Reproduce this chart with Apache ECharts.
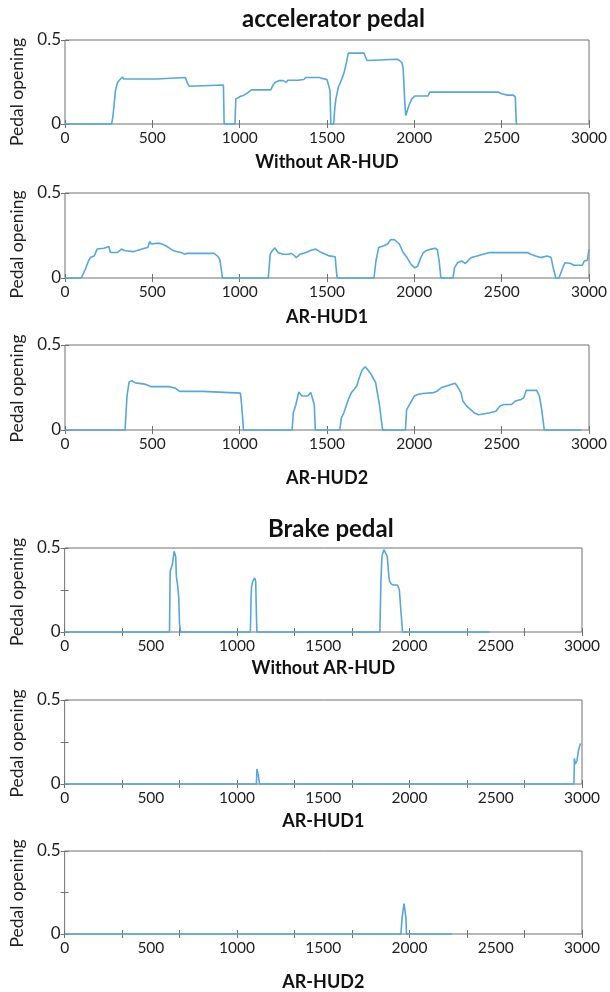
<!DOCTYPE html>
<html>
<head>
<meta charset="utf-8">
<script src="https://cdn.jsdelivr.net/npm/echarts@6/dist/echarts.min.js"></script>
<style>html,body{margin:0;padding:0;background:#fff;}#chart{width:610px;height:992px;}</style>
</head>
<body>
<div id="chart"></div>
<script>
// ---- data (x = sample index, y = pedal opening) ----
const xTickLabels = [0, 500, 1000, 1500, 2000, 2500, 3000];
const yTickLabels = [0, 0.5];
const panelNames = ['Without AR-HUD', 'AR-HUD1', 'AR-HUD2', 'Without AR-HUD', 'AR-HUD1', 'AR-HUD2'];
const sectionTitles = ['accelerator pedal', 'Brake pedal'];

const accelWithout = [[0,0],[267,0],[275,0.05],[289,0.2],[300,0.245],[311,0.26],[329,0.28],[335,0.268],[522,0.268],[527,0.277],[689,0.277],[700,0.245],[711,0.225],[720,0.232],[907,0.232],[909,0.12],[911,0],[973,0],[978,0.15],[990,0.155],[1005,0.165],[1022,0.17],[1045,0.185],[1067,0.203],[1178,0.203],[1190,0.23],[1204,0.248],[1225,0.258],[1250,0.258],[1267,0.248],[1275,0.26],[1333,0.26],[1367,0.265],[1378,0.277],[1456,0.277],[1478,0.27],[1500,0.265],[1511,0.26],[1517,0.2],[1522,0],[1538,0],[1545,0.1],[1551,0.15],[1565,0.22],[1578,0.25],[1596,0.3],[1608,0.35],[1622,0.422],[1711,0.422],[1720,0.4],[1729,0.378],[1740,0.385],[1900,0.385],[1915,0.378],[1929,0.365],[1936,0.33],[1942,0.2],[1947,0.1],[1951,0.05],[1960,0.08],[1969,0.11],[1985,0.15],[2004,0.167],[2078,0.167],[2089,0.19],[2478,0.19],[2500,0.18],[2533,0.172],[2567,0.172],[2578,0.16],[2582,0.05],[2584,0],[2590,0]];

const accelHUD1 = [[0,0],[93,0],[116,0.05],[134,0.1],[145,0.12],[167,0.13],[185,0.171],[223,0.175],[251,0.185],[260,0.15],[300,0.15],[323,0.17],[329,0.177],[345,0.16],[356,0.149],[390,0.155],[423,0.165],[456,0.175],[474,0.18],[485,0.214],[494,0.2],[534,0.205],[541,0.21],[556,0.2],[585,0.185],[607,0.17],[623,0.16],[634,0.149],[668,0.149],[686,0.139],[701,0.145],[852,0.145],[872,0.13],[886,0.11],[895,0.05],[901,0],[1164,0],[1175,0.14],[1186,0.16],[1202,0.177],[1220,0.15],[1246,0.14],[1280,0.14],[1287,0.13],[1295,0.145],[1310,0.135],[1324,0.12],[1346,0.14],[1380,0.15],[1413,0.165],[1436,0.17],[1458,0.155],[1491,0.14],[1513,0.13],[1547,0.125],[1552,0.06],[1558,0],[1769,0],[1780,0.1],[1796,0.18],[1825,0.19],[1847,0.2],[1865,0.226],[1887,0.225],[1914,0.2],[1936,0.15],[1958,0.12],[1981,0.08],[2003,0.06],[2019,0.07],[2037,0.12],[2052,0.15],[2066,0.16],[2077,0.15],[2097,0.17],[2119,0.175],[2132,0.165],[2142,0.1],[2152,0],[2221,0],[2230,0.06],[2248,0.09],[2270,0.1],[2293,0.085],[2305,0.1],[2326,0.12],[2360,0.13],[2393,0.14],[2427,0.149],[2649,0.149],[2667,0.14],[2694,0.13],[2723,0.12],[2761,0.13],[2783,0.12],[2795,0.06],[2810,0],[2828,0],[2846,0.05],[2862,0.09],[2895,0.085],[2913,0.075],[2962,0.075],[2973,0.1],[2991,0.105],[3000,0.17]];

const accelHUD2 = [[0,0],[344,0],[355,0.2],[367,0.283],[382,0.29],[404,0.277],[456,0.27],[467,0.26],[493,0.255],[600,0.255],[633,0.245],[656,0.227],[789,0.227],[793,0.217],[1004,0.217],[1011,0.15],[1022,0],[1300,0],[1307,0.1],[1322,0.15],[1338,0.223],[1356,0.2],[1367,0.19],[1389,0.2],[1407,0.22],[1418,0.215],[1427,0.15],[1433,0],[1573,0],[1582,0.07],[1596,0.1],[1622,0.18],[1640,0.22],[1656,0.24],[1671,0.26],[1682,0.3],[1700,0.35],[1718,0.372],[1733,0.355],[1751,0.33],[1767,0.3],[1778,0.28],[1800,0.15],[1818,0],[1949,0],[1956,0.12],[1978,0.16],[2000,0.2],[2022,0.21],[2049,0.215],[2111,0.22],[2133,0.23],[2156,0.25],[2189,0.26],[2233,0.275],[2244,0.26],[2267,0.22],[2278,0.17],[2300,0.14],[2322,0.12],[2344,0.1],[2367,0.09],[2378,0.1],[2427,0.1],[2433,0.11],[2467,0.11],[2489,0.14],[2511,0.15],[2556,0.15],[2578,0.17],[2611,0.18],[2627,0.19],[2640,0.233],[2700,0.233],[2716,0.2],[2729,0.12],[2744,0],[2956,0]];

const brakeWithout = [[0,0],[608,0],[612,0.36],[617,0.365],[624,0.4],[635,0.48],[644,0.45],[648,0.33],[655,0.28],[662,0.2],[666,0.05],[673,0],[1077,0],[1081,0.2],[1084,0.27],[1090,0.3],[1102,0.322],[1108,0.3],[1112,0.1],[1115,0],[1828,0],[1834,0.3],[1840,0.45],[1851,0.49],[1862,0.5],[1871,0.45],[1880,0.33],[1885,0.3],[1895,0.285],[1907,0.28],[1930,0.28],[1941,0.25],[1948,0.15],[1952,0.1],[1956,0.05],[1959,0],[2464,0]];

const brakeHUD1 = [[0,0],[1112,0],[1115,0.089],[1124,0.05],[1130,0],[2953,0],[2956,0.153],[2962,0.12],[2971,0.14],[2980,0.2],[2991,0.242]];

const brakeHUD2 = [[0,0],[1950,0],[1957,0.1],[1968,0.183],[1975,0.19],[1979,0.1],[1982,0],[2247,0]];

const panelData = [accelWithout, accelHUD1, accelHUD2, brakeWithout, brakeHUD1, brakeHUD2];

// ---- layout (pixels) ----
const layout = [
  {left:65, right:20, top:40,  height:84, xTick:500,    yTick:0.5,  nameGap:29, yShift:20},
  {left:65, right:20, top:193, height:85, xTick:500,    yTick:0.5,  nameGap:30, yShift:18},
  {left:65, right:20, top:345, height:85, xTick:500,    yTick:0.5,  nameGap:39, yShift:2},
  {left:62, right:28, top:548, height:84, xTick:1000/3, yTick:0.25, nameGap:27, yShift:4},
  {left:62, right:28, top:700, height:84, xTick:1000/3, yTick:0.25, nameGap:28, yShift:3},
  {left:62, right:28, top:851, height:83, xTick:1000/3, yTick:0.25, nameGap:39, yShift:2}
];

const FONT = 'Lato, "Open Sans", sans-serif';
const boxColor = '#707070';
const lineColor = '#55a7de';
const textColor = '#1e1e1e';

const option = {
  animation: false,
  backgroundColor: '#fff',
  textStyle: {fontFamily: FONT},
  title: [
    {text: sectionTitles[0], left: 237, top: 2, textStyle: {fontFamily: FONT, fontSize: 24, fontWeight: 'bold', color: '#111'}},
    {text: sectionTitles[1], left: 263, top: 512, textStyle: {fontFamily: FONT, fontSize: 24, fontWeight: 'bold', color: '#111'}}
  ],
  grid: [], xAxis: [], yAxis: [], series: []
};

layout.forEach((p, i) => {
  option.grid.push({left: p.left, right: p.right, top: p.top, height: p.height, show: true,
    borderColor: boxColor, borderWidth: 1, backgroundColor: '#fff'});
  const xi = option.xAxis.length;
  const tickCommon = {type: 'value', gridIndex: i, min: 0, max: 3000, interval: p.xTick,
    axisLine: {show: false}, splitLine: {show: false},
    axisTick: {inside: true, length: 4, lineStyle: {color: boxColor, width: 1}},
    axisLabel: {show: false}};
  option.xAxis.push(Object.assign({}, tickCommon, {position: 'bottom'}));
  option.xAxis.push(Object.assign({}, tickCommon, {position: 'top'}));
  option.xAxis.push({type: 'value', gridIndex: i, min: 0, max: 3000, interval: 500, position: 'bottom',
    axisLine: {show: false}, axisTick: {show: false}, splitLine: {show: false},
    axisLabel: {show: true, fontSize: 15.5, margin: 6, color: textColor, fontFamily: FONT,
      formatter: v => xTickLabels.includes(v) ? String(v) : ''},
    name: panelNames[i], nameLocation: 'middle', nameGap: p.nameGap,
    nameTextStyle: {fontSize: 18, fontWeight: 'bold', color: '#111', fontFamily: FONT}});
  const yi = option.yAxis.length;
  option.yAxis.push({type: 'value', gridIndex: i, min: 0, max: 0.5, interval: p.yTick, position: 'left',
    axisLine: {show: false}, splitLine: {show: false},
    axisTick: {inside: true, length: 4, lineStyle: {color: boxColor, width: 1}},
    axisLabel: {fontSize: 17, margin: 4, color: textColor, fontFamily: FONT,
      formatter: v => yTickLabels.includes(v) ? String(v) : ''},
    name: 'Pedal opening', nameLocation: 'middle', nameGap: 37,
    nameTextStyle: {fontSize: 17.5, color: textColor, fontFamily: FONT, padding: [0, p.yShift, 0, 0]}});
  option.yAxis.push({type: 'value', gridIndex: i, min: 0, max: 0.5, interval: p.yTick, position: 'right',
    axisLine: {show: false}, splitLine: {show: false},
    axisTick: {inside: true, length: 4, lineStyle: {color: boxColor, width: 1}},
    axisLabel: {show: false}});
  option.series.push({type: 'line', xAxisIndex: xi, yAxisIndex: yi, data: panelData[i],
    showSymbol: false, clip: false, lineStyle: {color: lineColor, width: 1.6}, z: 5});
});

const chart = echarts.init(document.getElementById('chart'), null, {renderer: 'canvas'});
chart.setOption(option);
</script>
</body>
</html>
